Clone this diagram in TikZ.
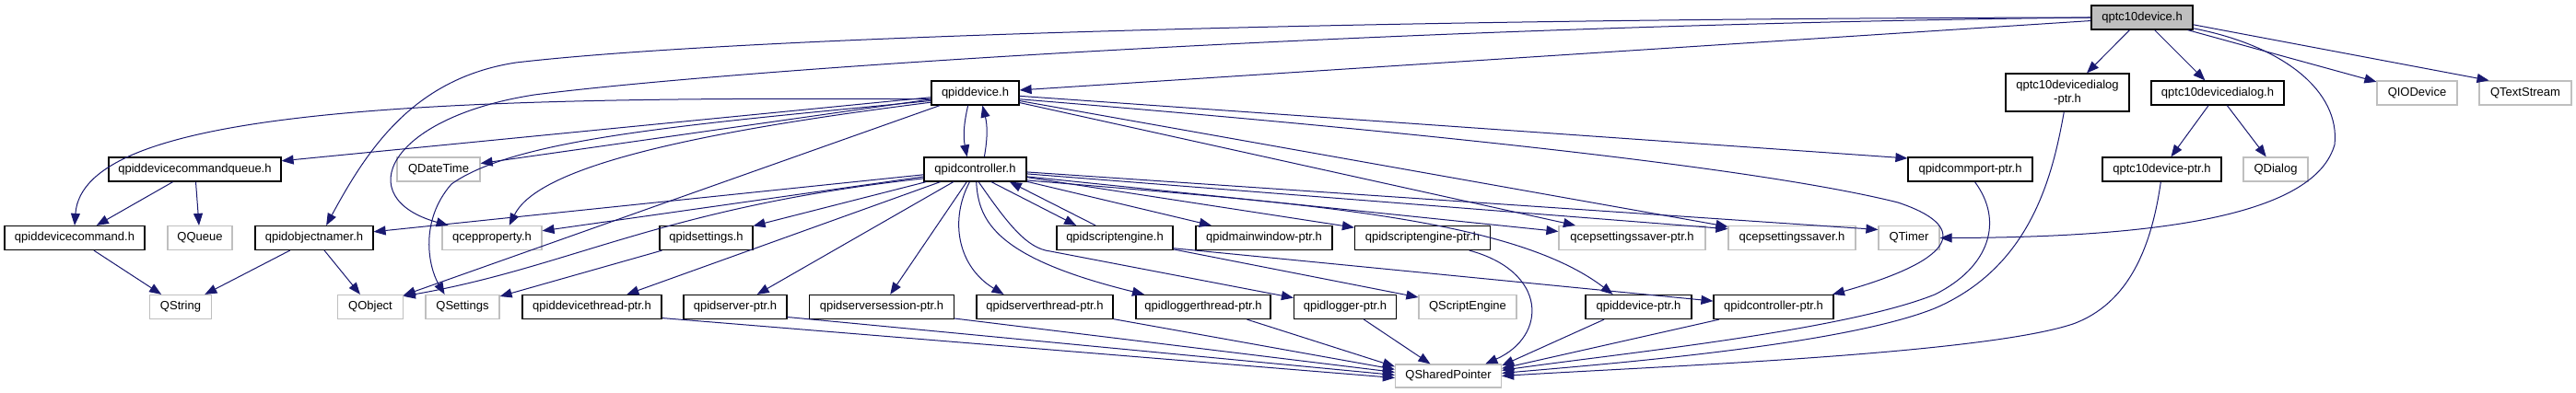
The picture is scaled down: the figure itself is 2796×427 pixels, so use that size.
\documentclass[tikz,border=0pt]{standalone}
\usepackage{fontspec}
\setmainfont{Liberation Sans}
\usetikzlibrary{arrows.meta}
\definecolor{edgeblue}{HTML}{191970}
\definecolor{extgray}{HTML}{BFBFBF}
\tikzset{
  box/.style={rectangle, inner sep=0pt, minimum height=26pt, line width=1.2pt, font=\fontsize{13pt}{15pt}\selectfont, align=center},
  doc/.style={box, draw=black},
  ext/.style={box, draw=extgray},
  root/.style={box, draw=black, fill=extgray},
  e/.style={draw=edgeblue, line width=1pt, -{Triangle[length=13pt,width=10pt]}}
}
\begin{document}
\begin{tikzpicture}[x=1pt,y=-1pt]
\useasboundingbox[fill=white] (0,0) rectangle (2796,427);
% nodes
\node[root, minimum width=110pt] (T) at (2325,19) {qptc10device.h};
\node[doc, minimum width=134pt, minimum height=41pt] (dlgptr) at (2244,100.5) {qptc10devicedialog\\-ptr.h};
\node[doc, minimum width=144pt] (dlg) at (2407,101) {qptc10devicedialog.h};
\node[doc, minimum width=129pt] (tptr) at (2346.5,184) {qptc10device-ptr.h};
\node[ext, minimum width=70pt] (QDialog) at (2470,184) {QDialog};
\node[ext, minimum width=87pt] (QIODevice) at (2623.5,101) {QIODevice};
\node[ext, minimum width=100pt] (QTextStream) at (2741,101) {QTextStream};
\node[doc, minimum width=95pt] (dev) at (1058.5,101) {qpiddevice.h};
\node[doc, minimum width=111pt] (ctl) at (1058.5,184) {qpidcontroller.h};
\node[doc, minimum width=187pt] (cmdq) at (211.5,184) {qpiddevicecommandqueue.h};
\node[doc, minimum width=152pt] (cmd) at (81,258.5) {qpiddevicecommand.h};
\node[ext, minimum width=70pt] (QQueue) at (217,258.5) {QQueue};
\node[doc, minimum width=128pt] (objn) at (341,258.5) {qpidobjectnamer.h};
\node[ext, minimum width=108pt] (prop) at (534,258.5) {qcepproperty.h};
\node[ext, minimum width=90pt] (QDateTime) at (476,184) {QDateTime};
\node[ext, minimum width=66.5pt] (QString) at (196,333.5) {QString};
\node[ext, minimum width=70.5pt] (QObject) at (402,333.5) {QObject};
\node[ext, minimum width=80pt] (QSettings) at (502,333.5) {QSettings};
\node[doc, minimum width=151pt] (dthr) at (642.5,333.5) {qpiddevicethread-ptr.h};
\node[doc, minimum width=101pt] (sett) at (766.5,258.5) {qpidsettings.h};
\node[doc, minimum width=126pt] (seng) at (1210,258.5) {qpidscriptengine.h};
\node[doc, minimum width=148pt] (mwin) at (1372,258.5) {qpidmainwindow-ptr.h};
\node[doc, minimum width=112pt] (srv) at (798,333.5) {qpidserver-ptr.h};
\node[doc, minimum width=157pt] (sses) at (957,333.5) {qpidserversession-ptr.h};
\node[doc, minimum width=148pt] (sthr) at (1134,333.5) {qpidserverthread-ptr.h};
\node[doc, minimum width=146pt] (lthr) at (1306,333.5) {qpidloggerthread-ptr.h};
\node[doc, minimum width=147pt] (sengp) at (1544,258.5) {qpidscriptengine-ptr.h};
\node[ext, minimum width=159pt] (cssp) at (1771.5,258.5) {qcepsettingssaver-ptr.h};
\node[ext, minimum width=138pt] (css) at (1945,258.5) {qcepsettingssaver.h};
\node[ext, minimum width=66pt] (QTimer) at (2072,258.5) {QTimer};
\node[doc, minimum width=111pt] (logp) at (1460,333.5) {qpidlogger-ptr.h};
\node[ext, minimum width=106pt] (QScriptEngine) at (1593,333.5) {QScriptEngine};
\node[doc, minimum width=115pt] (devp) at (1778.5,333.5) {qpiddevice-ptr.h};
\node[doc, minimum width=130pt] (ctlp) at (1925,333.5) {qpidcontroller-ptr.h};
\node[ext, minimum width=115pt, minimum height=25pt] (QSP) at (1572,408.5) {QSharedPointer};
\node[doc, minimum width=135pt] (comp) at (2138.5,184) {qpidcommport-ptr.h};
% edges from qptc10device.h
\draw[e] (T) -- (dev);
\draw[e] (T.west) .. controls (1500,20) and (800,40) .. (560,68) .. controls (450,85) and (400,160) .. (objn.46);
\draw[e] (T.west) .. controls (1500,28) and (800,75) .. (580,103) .. controls (420,128) and (380,215) .. (prop.164);
\draw[e] (T) -- (dlgptr);
\draw[e] (T) -- (dlg);
\draw[e] (T) -- (QIODevice);
\draw[e] (T.-8) -- (QTextStream.161);
\draw[e] (T.-12) .. controls (2480,50) and (2540,100) .. (2534,157) .. controls (2515,225) and (2380,258) .. (QTimer.east);
% qptc10devicedialog.h
\draw[e] (dlg) -- (tptr);
\draw[e] (dlg) -- (QDialog);
% to QSharedPointer
\draw[e] (dlgptr.-100) .. controls (2228,190) and (2205,290) .. (2100,335) .. controls (2000,375) and (1750,395) .. (QSP.3);
\draw[e] (tptr.-95) .. controls (2335,270) and (2310,330) .. (2250,352) .. controls (2150,385) and (1800,398) .. (QSP.0);
\draw[e] (comp.-70) .. controls (2175,240) and (2160,290) .. (2100,320) .. controls (2000,360) and (1750,385) .. (QSP.6);
\draw[e] (devp.-160) -- (QSP.11);
\draw[e] (ctlp.-167) -- (QSP.8);
\draw[e] (logp) -- (QSP);
\draw[e] (sengp.-15) .. controls (1680,295) and (1680,365) .. (QSP.18);
\draw[e] (lthr.-16) -- (QSP.170);
\draw[e] (sthr.-10) -- (QSP.173);
\draw[e] (sses.-9) -- (QSP.176);
\draw[e] (srv.-11) -- (QSP.179);
\draw[e] (dthr.-9) -- (QSP.182);
% small left groups
\draw[e] (objn) -- (QString);
\draw[e] (objn) -- (QObject);
\draw[e] (cmd) -- (QString);
\draw[e] (cmdq) -- (cmd);
\draw[e] (cmdq) -- (QQueue);
\draw[e] (sett) -- (QSettings);
% qpiddevice.h
\draw[e] (dev.-120) to[bend right=12] (ctl.123);
\draw[e] (dev) -- (cmdq);
\draw[e] (dev.188) .. controls (450,104) and (90,120) .. (cmd.north);
\draw[e] (dev) -- (QDateTime);
\draw[e] (dev.192) .. controls (700,150) and (580,190) .. (prop.36);
\draw[e] (dev.190) .. controls (750,135) and (560,150) .. (490,200) .. controls (455,240) and (465,290) .. (QSettings.145);
\draw[e] (dev) -- (QObject);
\draw[e] (dev) -- (comp.170);
\draw[e] (dev.-8) .. controls (1500,140) and (1900,180) .. (2060,220) .. controls (2135,245) and (2130,280) .. (ctlp.12);
\draw[e] (dev) -- (css);
\draw[e] (dev) -- (cssp);
% qpidcontroller.h
\draw[e] (ctl.54) to[bend right=12] (dev.-60);
\draw[e] (ctl.190) .. controls (720,225) and (620,290) .. (QObject.18);
\draw[e] (ctl) -- (objn);
\draw[e] (ctl) -- (prop);
\draw[e] (ctl) -- (dthr);
\draw[e] (ctl) -- (sett);
\draw[e] (ctl) -- (srv);
\draw[e] (ctl) -- (sses);
\draw[e] (ctl.-114) .. controls (1030,240) and (1040,290) .. (sthr.163);
\draw[e] (ctl.-85) .. controls (1062,240) and (1080,280) .. (lthr.168);
\draw[e] (ctl.-75) .. controls (1095,245) and (1115,270) .. (1140,273) -- (logp.170);
\draw[e] (ctl.-38) -- (seng.162);
\draw[e] (seng.147) -- (ctl.-20);
\draw[e] (ctl) -- (mwin);
\draw[e] (ctl) -- (sengp);
\draw[e] (ctl.-8) -- (cssp.175);
\draw[e] (ctl.-5) -- (css.172);
\draw[e] (ctl.-3) -- (QTimer.165);
\draw[e] (ctl.-12) .. controls (1400,220) and (1640,235) .. (devp.154);
% qpidscriptengine.h
\draw[e] (seng) -- (QScriptEngine);
\draw[e] (seng.-10) -- (ctlp);
\end{tikzpicture}
\end{document}
